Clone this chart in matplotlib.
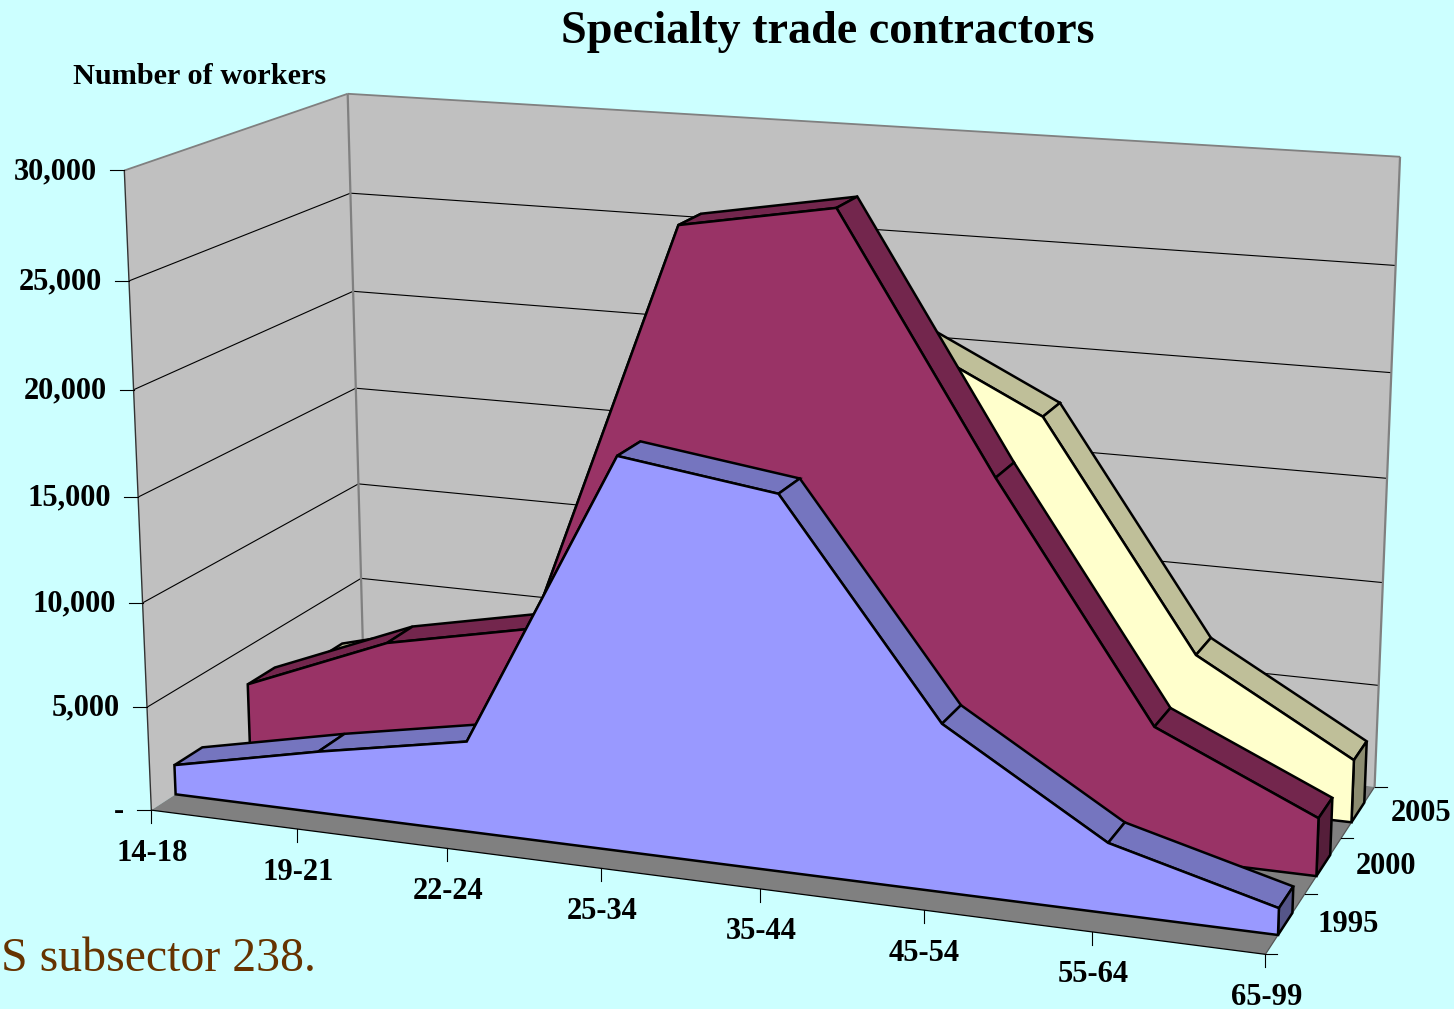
import numpy as np, matplotlib
matplotlib.use('Agg')
import matplotlib.pyplot as plt
from matplotlib.patches import Polygon

categories = ['14-18','19-21','22-24','25-34','35-44','45-54','55-64','65-99']
series_names = ['1995','2000','2005']
v1995 = [1440,2970,4320,18330,17300,7710,3200,1210]
v2000 = [3130,6010,7500,27210,28480,16820,6070,2700]
v2005 = [2200,4100,5500,17500,21500,17880,7220,3000]
z_ticks = [0,5000,10000,15000,20000,25000,30000]
z_labels = ['-','5,000','10,000','15,000','20,000','25,000','30,000']
series_depth = [(0.104,0.226),(0.438,0.565),(0.768,0.895)]
face = ['#9999FF','#993366','#FFFFCC']
strip = ['#7575BF','#73264D','#BFBF99']
end = ['#555588','#551E3A','#8C8C70']

# camera: world (category, depth, value) -> picture pixels, fitted on the box corners
world = [(0,0,0),(7,0,0),(7,1,0),(0,1,0),(0,0,30000),(0,1,30000),(7,1,30000)]
pix = [(152,810),(1265,955),(1375,786),(363,672),(124,170),(348,94),(1400,157)]
A=[];b=[]
for (x,d,z),(u,v) in zip(world,pix):
    z=z/30000
    A.append([x,d,z,1,0,0,0,0,-u*x,-u*d,-u*z]);b.append(u)
    A.append([0,0,0,0,x,d,z,1,-v*x,-v*d,-v*z]);b.append(v)
P=np.append(np.linalg.lstsq(np.array(A,float),np.array(b,float),rcond=None)[0],1).reshape(3,4)
def proj(x,d,z):
    q=P@np.array([x,d,z/30000,1.0]);return q[:2]/q[2]

BG='#CCFFFF'
fig=plt.figure(figsize=(14.54,10.09),dpi=100,facecolor=BG)
ax=fig.add_axes([0,0,1,1]);ax.set_xlim(0,1454);ax.set_ylim(1009,0);ax.axis('off')
SERIF='Liberation Serif'
def poly(pts,fc,ec='k',lw=1.8,z=1):
    ax.add_patch(Polygon([proj(*p) for p in pts],closed=True,fc=fc,ec=ec,lw=lw,joinstyle='miter',zorder=z))
def line(a,b,c='k',lw=0.8,z=2):
    pa,pb=proj(*a),proj(*b);ax.plot([pa[0],pb[0]],[pa[1],pb[1]],color=c,lw=lw,zorder=z,solid_capstyle='butt')

T=30000
poly([(0,0,0),(0,1,0),(0,1,T),(0,0,T)],'#C0C0C0',ec='none')
poly([(0,1,0),(7,1,0),(7,1,T),(0,1,T)],'#C0C0C0',ec='none')
poly([(0,0,0),(7,0,0),(7,1,0),(0,1,0)],'#808080',ec='none')
for zv in z_ticks[1:-1]:
    line((0,0,zv),(0,1,zv)); line((0,1,zv),(7,1,zv))
# wall edges
line((0,1,0),(0,1,T),'#808080',1.6); line((7,1,0),(7,1,T),'#808080',1.6)
line((0,0,T),(0,1,T),'#808080',1.3); line((0,1,T),(7,1,T),'#808080',1.3)
line((0,0,0),(0,0,T),'#333333',1.0)
line((0,0,0),(7,0,0),'k',0.9); line((7,0,0),(7,1,0),'#555555',0.9)

# series, back to front
data=[v1995,v2000,v2005]
for s in [2,1,0]:
    vals=data[s]; f,k=series_depth[s]; n=len(vals)
    zo=10+(2-s)*3
    for i in range(n-1):
        poly([(i,f,vals[i]),(i+1,f,vals[i+1]),(i+1,k,vals[i+1]),(i,k,vals[i])],strip[s],z=zo)
    poly([(n-1,f,0),(n-1,f,vals[-1]),(n-1,k,vals[-1]),(n-1,k,0)],end[s],z=zo+1)
    poly([(0,f,0)]+[(i,f,vals[i]) for i in range(n)]+[(n-1,f,0)],face[s],z=zo+2)

# value axis
for zv,l in zip(z_ticks,z_labels):
    u,v=proj(0,0,zv)
    ax.plot([u-14,u],[v,v],color='k',lw=0.8,zorder=3)
    ax.text(u-27,v+1,l,ha='right',va='center',family=SERIF,weight='bold',fontsize=22)
# category axis
for i,c in enumerate(categories):
    u,v=proj(i,0,0)
    ax.plot([u,u],[v,v+13],color='k',lw=0.8,zorder=3)
    ax.text(u+1,v+43,c,ha='center',va='center',family=SERIF,weight='bold',fontsize=22)
# series axis
for j in range(4):
    u,v=proj(7,j/3,0)
    ax.plot([u,u+12],[v,v],color='k',lw=0.8,zorder=3)
    if j<3:
        u2,v2=proj(7,(j+0.5)/3,0)
        ax.text(u2+63,v2+1,series_names[j],ha='center',va='center',family=SERIF,weight='bold',fontsize=22)

ax.text(828,32,'Specialty trade contractors',ha='center',va='center',family=SERIF,weight='bold',fontsize=33.2)
ax.text(73,77,'Number of workers',ha='left',va='center',family=SERIF,weight='bold',fontsize=21.8)
ax.text(1,971,'S subsector 238.',ha='left',va='baseline',family=SERIF,color='#663300',fontsize=34.4)
fig.savefig('out.png',dpi=100,facecolor=BG)
